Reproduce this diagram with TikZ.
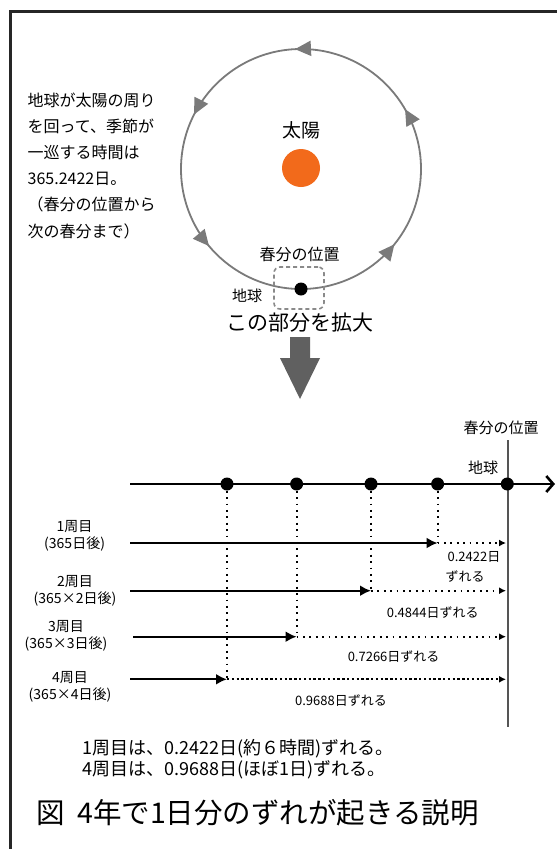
\documentclass[tikz,border=0pt]{standalone}
\usepackage{fontspec}
\setmainfont{Noto Sans CJK JP}
\usetikzlibrary{arrows.meta,decorations.markings}
\definecolor{orbitgray}{HTML}{7A7A7A}
\definecolor{bigarrow}{HTML}{606060}
\definecolor{sunorange}{HTML}{F26A1B}
\definecolor{boxgray}{HTML}{8A8A8A}
\definecolor{vgray}{HTML}{555555}
\newcommand{\jfs}[1]{\fontsize{#1}{#1}\selectfont}
\tikzset{
  orbitline/.style={draw=orbitgray, line width=1.8pt},
  lbl/.style={inner sep=0pt, outer sep=0pt},
  zoombox/.style={draw=boxgray, dashed, dash pattern=on 4pt off 3pt, line width=1.6pt, rounded corners=6pt, minimum width=50pt, minimum height=42pt, inner sep=0pt},
  dot/.style={circle, fill=black, minimum size=13pt, inner sep=0pt},
  solidarrow/.style={line width=2.2pt, -{Latex[length=11pt,width=11pt]}},
  dotline/.style={line width=1.8pt, dash pattern=on 1.8pt off 4.6pt},
  dotarrow/.style={dotline, -{Latex[length=7pt,width=7pt]}},
  rowlbl/.style={lbl, align=center, font=\fontsize{14}{17}\selectfont},
  shiftlbl/.style={lbl, font=\jfs{13}},
}
\begin{document}
\begin{tikzpicture}[x=1pt,y=-1pt]
\useasboundingbox (0,0) rectangle (557,849);
\clip (0,0) rectangle (557,849);
\fill[white] (0,0) rectangle (557,849);
% frame
\coordinate (fbl) at (10.7,880);
\coordinate (ftl) at (10.7,11.7);
\coordinate (ftr) at (590,11.7);
\draw[line width=3pt, black!85] (fbl) -- (ftl) -- (ftr);

% orbit
\coordinate (C) at (301,169);
\draw[orbitline, postaction={decorate}, decoration={markings,
  mark=at position 0.083 with {\arrow[orbitgray]{Triangle[length=16pt,width=15pt]}},
  mark=at position 0.258 with {\arrow[orbitgray]{Triangle[length=16pt,width=15pt]}},
  mark=at position 0.425 with {\arrow[orbitgray]{Triangle[length=16pt,width=15pt]}},
  mark=at position 0.611 with {\arrow[orbitgray]{Triangle[length=16pt,width=15pt]}},
  mark=at position 0.892 with {\arrow[orbitgray]{Triangle[length=16pt,width=15pt]}}}]
  ([shift={(C)}]0:120pt) arc[start angle=0, end angle=360, radius=120pt];

\node[circle, fill=sunorange, minimum size=38pt, inner sep=0pt] (sun) at (301,168) {};
\node[lbl, font=\jfs{19}] (sunlbl) at (301,130) {太陽};
\node[lbl, font=\jfs{16}] (shunbun1) at (299.5,254) {春分の位置};
\node[zoombox] (zoom) at (299,288) {};
\node[dot] (earth) at (301,289) {};
\node[lbl, font=\jfs{15}] (earthlbl1) at (247,296) {地球};
\node[lbl, font=\jfs{21}] (enlarge) at (299.5,323) {この部分を拡大};
\fill[bigarrow] (290,337) -- (310,337) -- (310,358) -- (320,358) -- (300,399) -- (280,358) -- (290,358) -- cycle;

% left text
\node[lbl, anchor=base west, font=\jfs{16}] (t1) at (27.7,106) {地球が太陽の周り};
\node[lbl, anchor=base west, font=\jfs{16}] (t2) at (27.7,132.2) {を回って、季節が};
\node[lbl, anchor=base west, font=\jfs{16}] (t3) at (27.7,158.4) {一巡する時間は};
\node[lbl, anchor=base west, font=\jfs{16}] (t4) at (27.7,184.6) {365.2422日。};
\node[lbl, anchor=base west, font=\jfs{16}] (t5) at (27.7,210.8) {（春分の位置から};
\node[lbl, anchor=base west, font=\jfs{16}] (t6) at (27.7,237) {次の春分まで）};

% lower diagram
\node[lbl, font=\jfs{15}] (shunbun2) at (501,428) {春分の位置};
\coordinate (vtop) at (508,440);
\coordinate (vbot) at (508,727);
\draw[vgray, line width=1.5pt] (vtop) -- (vbot);
\node[lbl, font=\jfs{15}] (earthlbl2) at (483,468) {地球};
\coordinate (axL) at (130,484);
\coordinate (axR) at (555,484);
\draw[line width=2.6pt, -{Straight Barb[length=7pt,width=16pt]}] (axL) -- (axR);
\foreach \i/\x in {1/227,2/296.6,3/371,4/437.6,5/507.3}
  \node[dot] (d\i) at (\x,484) {};

% rows
\coordinate (s1) at (130,543);
\coordinate (s2) at (130,590.7);
\coordinate (s3) at (133,636.7);
\coordinate (s4) at (130,679.3);
\coordinate (e1) at (d4 |- s1);
\coordinate (e2) at (d3 |- s2);
\coordinate (e3) at (d2 |- s3);
\coordinate (e4) at (d1 |- s4);
\coordinate (f1) at (506,543);
\coordinate (f2) at (506,590.7);
\coordinate (f3) at (506,636.7);
\coordinate (f4) at (506,679.3);
\draw[solidarrow] (s1) -- (e1);
\draw[solidarrow] (s2) -- (e2);
\draw[solidarrow] (s3) -- (e3);
\draw[solidarrow] (s4) -- (e4);
\draw[dotarrow] (e1) -- (f1);
\draw[dotarrow] (e2) -- (f2);
\draw[dotarrow] (e3) -- (f3);
\draw[dotarrow, dash pattern=on 2.4pt off 2.4pt] (e4) -- (f4);
\draw[dotline] (d4) -- (e1);
\draw[dotline] (d3) -- (e2);
\draw[dotline] (d2) -- (e3);
\draw[dotline] (d1) -- (e4);

\node[rowlbl] (r1) at (74.6,536) {1周目\\(365日後)};
\node[rowlbl] (r2) at (75,591) {2周目\\(365×2日後)};
\node[rowlbl] (r3) at (66,636) {3周目\\(365×3日後)};
\node[rowlbl] (r4) at (70,687) {4周目\\(365×4日後)};

\node[shiftlbl] (z1a) at (474,556.7) {0.2422日};
\node[shiftlbl] (z1b) at (465,576.7) {ずれる};
\node[shiftlbl] (z2) at (432.7,612.3) {0.4844日ずれる};
\node[shiftlbl] (z3) at (393.6,656.7) {0.7266日ずれる};
\node[shiftlbl] (z4) at (341,700.7) {0.9688日ずれる};

\node[lbl, anchor=base west, font=\jfs{18}] (b1) at (82.4,754.5) {1周目は、0.2422日(約６時間)ずれる。};
\node[lbl, anchor=base west, font=\jfs{18}] (b2) at (82.4,775.5) {4周目は、0.9688日(ほぼ1日)ずれる。};
\node[lbl, anchor=base west, font=\jfs{28.5}] (cap) at (36,823) {図\hspace{0.45em}4年で1日分のずれが起きる説明};
\end{tikzpicture}
\end{document}
